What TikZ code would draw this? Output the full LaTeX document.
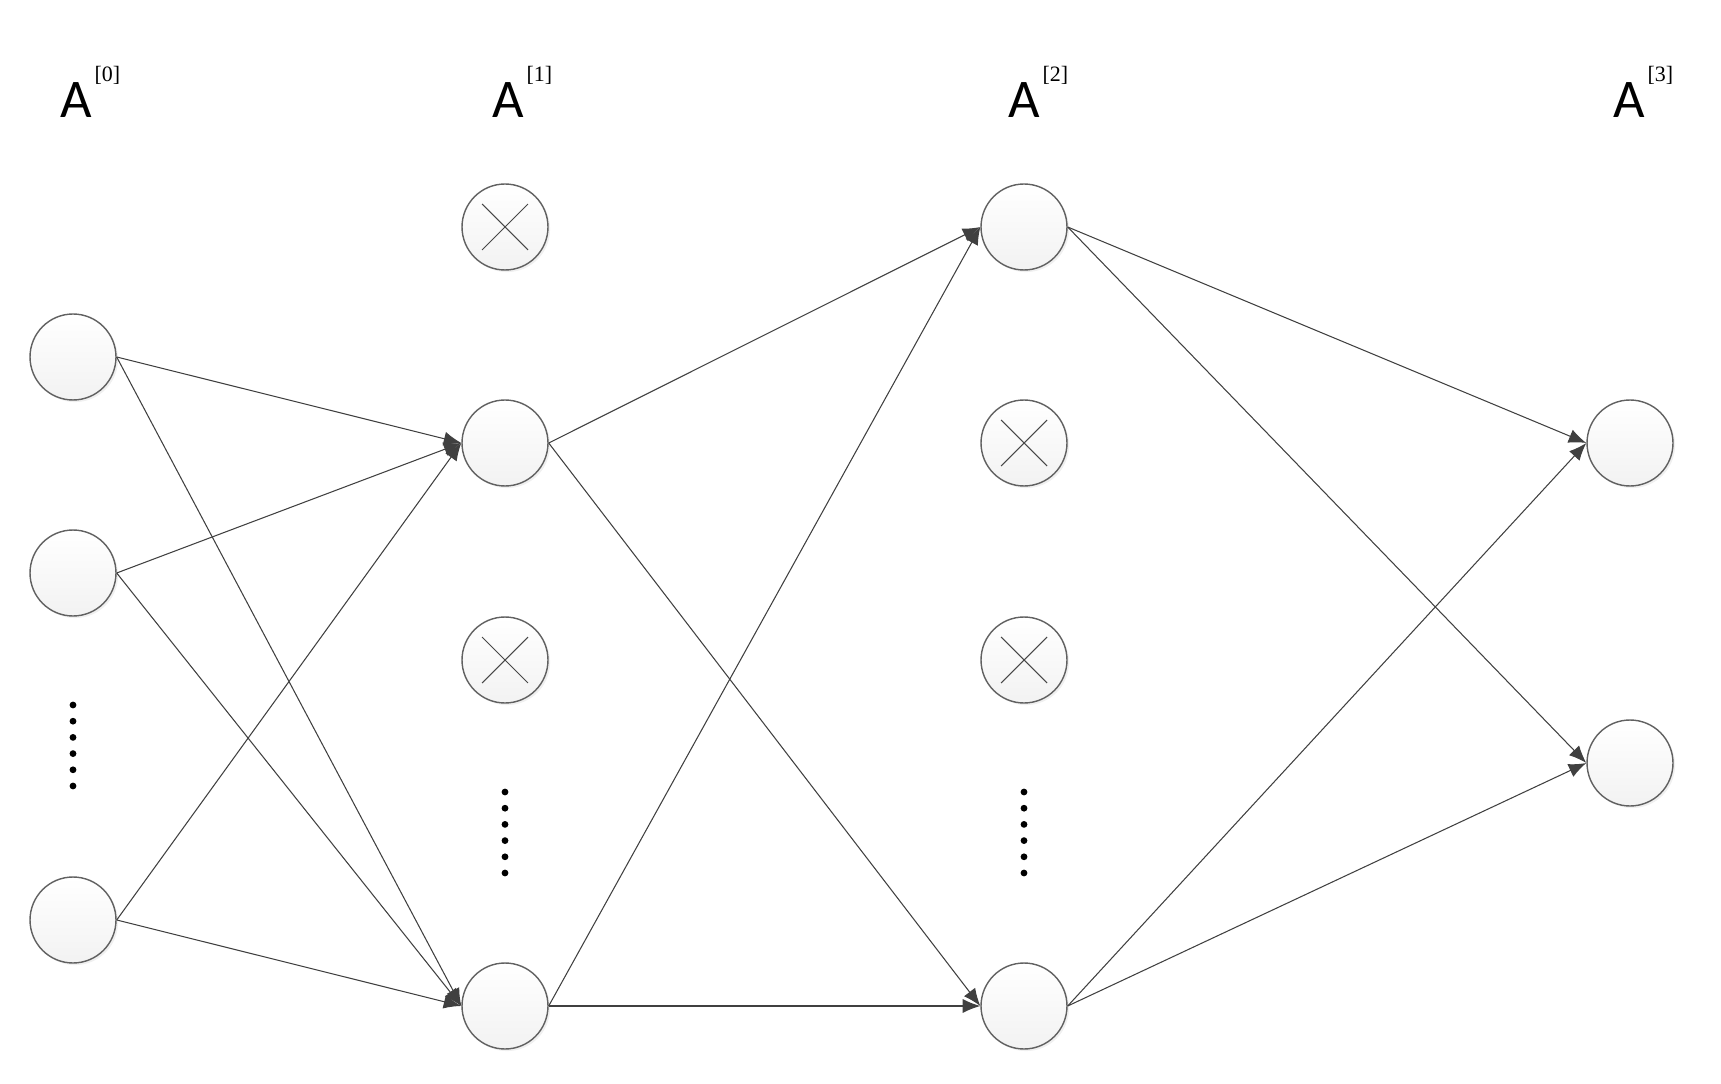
\documentclass[tikz,border=0pt]{standalone}
\usepackage{fontspec}
\newfontfamily\labfont{Carlito}
\newfontfamily\supfont{Liberation Serif}
\usetikzlibrary{arrows.meta,shadows}
\begin{document}
\begin{tikzpicture}[x=0.02cm,y=-0.02cm,
    neuron/.style={circle,draw=black!62,line width=0.8pt,minimum size=1.72cm,inner sep=0pt,
      top color=white,bottom color=black!5,
      drop shadow={opacity=0.12,shadow xshift=1.2pt,shadow yshift=-1.2pt}},
    dropped/.style={neuron,path picture={\draw[black!72,line width=0.6pt]
      ([shift={(-0.46cm,-0.46cm)}]path picture bounding box.center) -- ++(0.92cm,0.92cm)
      ([shift={(-0.46cm,0.46cm)}]path picture bounding box.center) -- ++(0.92cm,-0.92cm);}},
    layer/.style={anchor=base west,inner sep=0pt,font=\labfont\fontsize{31}{31}\selectfont}]
  \useasboundingbox (0,0) rectangle (1721,1084);
  % layer labels
  \node[layer] (lab0) at (60,118) {A\kern1.5pt\raisebox{21pt}{\supfont\fontsize{12.5}{12.5}\selectfont[0]}};
  \node[layer] (lab1) at (492,118) {A\kern1.5pt\raisebox{21pt}{\supfont\fontsize{12.5}{12.5}\selectfont[1]}};
  \node[layer] (lab2) at (1008,118) {A\kern1.5pt\raisebox{21pt}{\supfont\fontsize{12.5}{12.5}\selectfont[2]}};
  \node[layer] (lab3) at (1613,118) {A\kern1.5pt\raisebox{21pt}{\supfont\fontsize{12.5}{12.5}\selectfont[3]}};
  % units
  \draw
    (73,357) node[neuron] (a0){}
    (73,573) node[neuron] (a1){}
    (73,920) node[neuron] (a2){}
    (505,227) node[dropped] (b0){}
    (505,443) node[neuron] (b1){}
    (505,660) node[dropped] (b2){}
    (505,1006) node[neuron] (b3){}
    (1024,227) node[neuron] (c0){}
    (1024,443) node[dropped] (c1){}
    (1024,660) node[dropped] (c2){}
    (1024,1006) node[neuron] (c3){}
    (1630,443) node[neuron] (d0){}
    (1630,763) node[neuron] (d1){};
  % ellipsis dots
  \foreach \y in {0,...,5} {
    \fill (73,705+16.2*\y) circle (3.4);
    \fill (505,792+16.2*\y) circle (3.4);
    \fill (1024,792+16.2*\y) circle (3.4);
  }
  \begin{scope}[draw=black!75,line width=0.6pt,-{Latex[length=10pt,width=8pt]}]
    \draw (a0.east) to (b1.west);
    \draw (a0.east) to (b3.west);
    \draw (a1.east) to (b1.west);
    \draw (a1.east) to (b3.west);
    \draw (a2.east) to (b1.west);
    \draw (a2.east) to (b3.west);
    \draw (b1.east) to (c0.west);
    \draw (b1.east) to (c3.west);
    \draw (b3.east) to (c0.west);
    \draw (b3.east) to (c3.west);
    \draw (c0.east) to (d0.west);
    \draw (c0.east) to (d1.west);
    \draw (c3.east) to (d0.west);
    \draw (c3.east) to (d1.west);
  \end{scope}
\end{tikzpicture}
\end{document}
